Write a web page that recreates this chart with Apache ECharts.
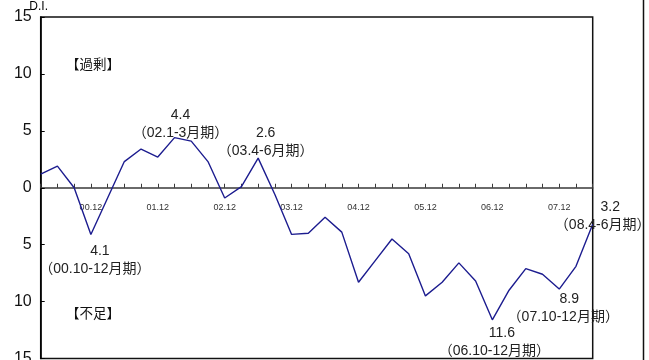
<!DOCTYPE html>
<html>
<head>
<meta charset="utf-8">
<script src="https://cdn.jsdelivr.net/npm/echarts@6/dist/echarts.min.js"></script>
<style>
  html, body { margin: 0; padding: 0; background: #fff; }
  #chart { width: 649px; height: 360px; }
</style>
</head>
<body>
<div id="chart"></div>
<script>
// Quarter-end labels, 2000 Q1 .. 2008 Q2
const quarters = [
  '00.3','00.6','00.9','00.12',
  '01.3','01.6','01.9','01.12',
  '02.3','02.6','02.9','02.12',
  '03.3','03.6','03.9','03.12',
  '04.3','04.6','04.9','04.12',
  '05.3','05.6','05.9','05.12',
  '06.3','06.6','06.9','06.12',
  '07.3','07.6','07.9','07.12',
  '08.3','08.6'
];

// D.I. (surplus minus shortage)
const diValues = [
  1.2, 1.9, 0.0, -4.1,
  -0.9, 2.3, 3.4, 2.7,
  4.4, 4.1, 2.3, -0.9,
  0.1, 2.6, -0.6, -4.1,
  -4.0, -2.6, -3.9, -8.3,
  -6.4, -4.5, -5.8, -9.5,
  -8.3, -6.6, -8.2, -11.6,
  -9.0, -7.1, -7.6, -8.9,
  -6.9, -3.2
];

// Annotated turning points: index into the series and the period caption
const peakIndex = [3, 8, 13, 27, 31, 33];
const peakPeriods = ['00.10-12月期', '02.1-3月期', '03.4-6月期', '06.10-12月期', '07.10-12月期', '08.4-6月期'];

const yTicks = { min: -15, max: 15, step: 5 };

// Label block placement around each annotated point: [dx, dy, value-line shift]
const peakLayout = {
  3:  [4, 26, 10],
  8:  [6, -14, 0],
  13: [7.5, -16, 0],
  27: [2, 22, 15],
  31: [4, 19, 12],
  33: [10, -8, 15]
};

const FONT = '"Liberation Sans", Arial, "Noto Sans CJK JP", sans-serif';
const LINE_COLOR = '#1c1c8f';

const GRID = { left: 40.7, right: 56.3, top: 17, bottom: 1.5 };
const plotHeight = 360 - GRID.top - GRID.bottom;
// distance from the plot bottom up to the zero line
const zeroLift = plotHeight * (0 - yTicks.min) / (yTicks.max - yTicks.min);

const seriesData = diValues.map((v, i) => {
  const k = peakIndex.indexOf(i);
  if (k < 0) return v;
  const [dx, dy, shift] = peakLayout[i];
  return {
    value: v,
    label: {
      show: true,
      position: 'inside',
      align: 'center',
      verticalAlign: 'middle',
      offset: [dx, dy],
      formatter: '{v|' + Math.abs(v).toFixed(1) + '}\n{p|（' + peakPeriods[k] + '）}',
      rich: {
        v: { fontSize: 14, fontFamily: FONT, color: '#222', lineHeight: 18, padding: [0, 0, 0, shift] },
        p: { fontSize: 14, fontFamily: FONT, color: '#222', lineHeight: 18 }
      }
    }
  };
});

const chart = echarts.init(document.getElementById('chart'), null, { renderer: 'canvas' });

chart.setOption({
  animation: false,
  backgroundColor: '#fff',
  grid: Object.assign({}, GRID, {
    containLabel: false,
    outerBoundsMode: 'none',
    show: true, borderColor: '#111', borderWidth: 1.5, backgroundColor: 'transparent'
  }),
  xAxis: {
    type: 'category',
    data: quarters,
    boundaryGap: false,
    position: 'bottom',
    offset: -zeroLift,
    axisLine: { onZero: false, lineStyle: { color: '#3a3a3a', width: 1.5 } },
    axisTick: { show: true, inside: true, length: 4, interval: 0, lineStyle: { color: '#3a3a3a', width: 1 } },
    axisLabel: {
      interval: (i, name) => name.endsWith('.12'),
      fontSize: 9, fontFamily: FONT, color: '#333', margin: 15
    },
    splitLine: { show: false }
  },
  yAxis: {
    type: 'value',
    min: yTicks.min, max: yTicks.max, interval: yTicks.step,
    name: 'D.I.',
    nameLocation: 'end',
    nameGap: 4,
    nameMoveOverlap: false,
    nameTextStyle: { fontSize: 12, fontFamily: FONT, color: '#000', align: 'center', padding: [0, 0, 0, -4] },
    axisLine: { show: true, lineStyle: { color: '#000', width: 1.5 } },
    axisTick: { show: true, inside: true, length: 4, lineStyle: { color: '#000' } },
    axisLabel: {
      formatter: v => String(Math.abs(v)),
      fontSize: 16, fontFamily: FONT, color: '#111', margin: 9
    },
    splitLine: { show: false }
  },
  series: [{
    type: 'line',
    data: seriesData,
    symbol: 'circle',
    symbolSize: 0,
    showSymbol: true,
    lineStyle: { color: LINE_COLOR, width: 1.4 },
    itemStyle: { color: LINE_COLOR },
    emphasis: { disabled: true }
  }],
  graphic: [
    { type: 'text', left: 66, top: 59, style: { text: '【過剰】', fontSize: 13.5, fontFamily: FONT, fill: '#111' } },
    { type: 'text', left: 66, top: 308, style: { text: '【不足】', fontSize: 13.5, fontFamily: FONT, fill: '#111' } },
    { type: 'line', shape: { x1: 643.5, y1: 0, x2: 643.5, y2: 360 }, style: { stroke: '#111', lineWidth: 1.5 } }
  ]
});
</script>
</body>
</html>
